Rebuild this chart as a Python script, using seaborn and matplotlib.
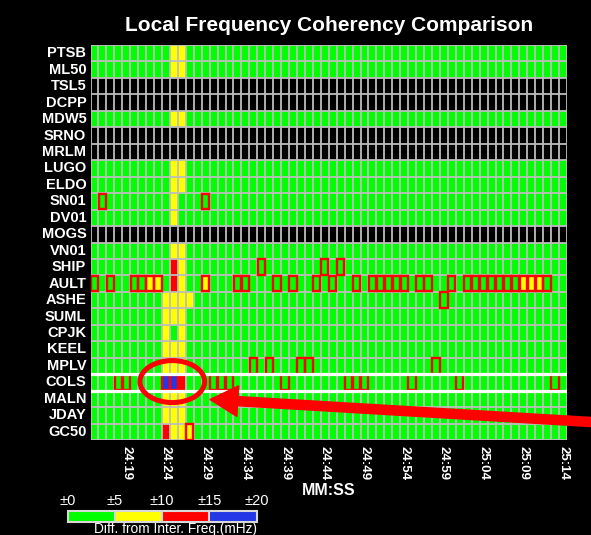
import matplotlib
matplotlib.use("Agg")
import matplotlib.pyplot as plt
import numpy as np
import pandas as pd
import seaborn as sns
from matplotlib.colors import ListedColormap
from matplotlib.patches import Ellipse, Rectangle

# --- data -------------------------------------------------------------------
stations = [
    "PTSB", "ML50", "TSL5", "DCPP", "MDW5", "SRNO", "MRLM", "LUGO",
    "ELDO", "SN01", "DV01", "MOGS", "VN01", "SHIP", "AULT", "ASHE",
    "SUML", "CPJK", "KEEL", "MPLV", "COLS", "MALN", "JDAY", "GC50",
]

# one character per second, 24:15 .. 25:14 (groups of ten)
# g: ±0-5  y: ±5-10  r: ±10-15  b: ±15-20 mHz   .: no data
# upper case = flagged cell (red box)
cell_codes = [
    "gggggggggg yygggggggg gggggggggg gggggggggg gggggggggg gggggggggg",  # PTSB
    "gggggggggg yygggggggg gggggggggg gggggggggg gggggggggg gggggggggg",  # ML50
    ".......... .......... .......... .......... .......... ..........",  # TSL5
    ".......... .......... .......... .......... .......... ..........",  # DCPP
    "gggggggggg yygggggggg gggggggggg gggggggggg gggggggggg gggggggggg",  # MDW5
    ".......... .......... .......... .......... .......... ..........",  # SRNO
    ".......... .......... .......... .......... .......... ..........",  # MRLM
    "gggggggggg yygggggggg gggggggggg gggggggggg gggggggggg gggggggggg",  # LUGO
    "gggggggggg yygggggggg gggggggggg gggggggggg gggggggggg gggggggggg",  # ELDO
    "gGgggggggg ygggGggggg gggggggggg gggggggggg gggggggggg gggggggggg",  # SN01
    "gggggggggg yggggggggg gggggggggg gggggggggg gggggggggg gggggggggg",  # DV01
    ".......... .......... .......... .......... .......... ..........",  # MOGS
    "gggggggggg yygggggggg gggggggggg gggggggggg gggggggggg gggggggggg",  # VN01
    "gggggggggg rygggggggg gGgggggggG gGgggggggg gggggggggg gggggggggg",  # SHIP
    "GgGggGGYYg ryggYgggGG gggGgGggGg GggGgGGGGG gGGggGgGGG GGGGYYYGgg",  # AULT
    "gggggggggy yyyggggggg gggggggggg gggggggggg ggggGggggg gggggggggg",  # ASHE
    "gggggggggy yygggggggg gggggggggg gggggggggg gggggggggg gggggggggg",  # SUML
    "gggggggggy gygggggggg gggggggggg gggggggggg gggggggggg gggggggggg",  # CPJK
    "gggggggggy yygggggggg gggggggggg gggggggggg gggggggggg gggggggggg",  # KEEL
    "gggggggggy yygggggggg GgGgggGGgg gggggggggg gggGgggggg gggggggggg",  # MPLV
    "gggGGggggB BrgggGGGgg ggggGggggg ggGGGggggg GgggggGggg ggggggggGg",  # COLS
    "gggggggggy yygggggggg gggggggggg gggggggggg gggggggggg gggggggggg",  # MALN
    "gggggggggy yygggggggg gggggggggg gggggggggg gggggggggg gggggggggg",  # JDAY
    "gggggggggr yyYggggggg gggggggggg gggggggggg gggggggggg gggggggggg",  # GC50
]

band_mid = {"g": 2.5, "y": 7.5, "r": 12.5, "b": 17.5}
band_edges = [0, 5, 10, 15, 20]
band_labels = ["±0", "±5", "±10", "±15", "±20"]
band_colors = ["#00ff00", "#ffff00", "#ff0000", "#2337e6"]

tick_labels = ["24:19", "24:24", "24:29", "24:34", "24:39", "24:44",
               "24:49", "24:54", "24:59", "25:04", "25:09", "25:14"]

highlight_station = "COLS"
circled_times = ["24:24", "24:26"]

# --- build table --------------------------------------------------------------
rows = [s.replace(" ", "") for s in cell_codes]
start = 24 * 60 + 15
times = [f"{(start + i) // 60}:{(start + i) % 60:02d}" for i in range(len(rows[0]))]
values = np.array([[band_mid.get(ch.lower(), np.nan) for ch in r] for r in rows])
df = pd.DataFrame(values, index=stations, columns=times)

plt.rcParams["font.family"] = ["Liberation Sans", "DejaVu Sans"]

W, H = 591, 535
fig = plt.figure(figsize=(W / 100, H / 100), dpi=100, facecolor="black")
ax = fig.add_axes([90.5 / W, 1 - 440 / H, (567 - 90.5) / W, 395 / H])
cax = fig.add_axes([67.7 / W, 1 - 521.7 / H, 189 / W, 11.2 / H])
ax.set_facecolor("black")

sns.heatmap(
    df,
    ax=ax,
    cmap=ListedColormap(band_colors),
    vmin=band_edges[0],
    vmax=band_edges[-1],
    linewidths=0,
    cbar_ax=cax,
    cbar_kws={"orientation": "horizontal", "drawedges": True},
    xticklabels=False,
    yticklabels=True,
)

n_rows, n_cols = df.shape
grid_kw = dict(color="#bdbdbd", lw=1.3, zorder=3)
ax.vlines(np.arange(n_cols + 1), 0, n_rows, **grid_kw)
ax.hlines(np.arange(n_rows + 1), 0, n_cols, **grid_kw)

# flagged cells
for r, row in enumerate(rows):
    for c, ch in enumerate(row):
        if ch.isupper():
            ax.add_patch(Rectangle((c + 0.04, r + 0.03), 0.92, 0.94, fill=False,
                                   ec="#ff0000", lw=1.7, zorder=4))

# highlighted station row
hr = stations.index(highlight_station)
ax.axhline(hr, color="white", lw=2.3, zorder=5)
ax.axhline(hr + 1, color="white", lw=2.3, zorder=5)

# circle + arrow annotation
c0, c1 = times.index(circled_times[0]), times.index(circled_times[1]) + 1
ax.add_patch(Ellipse(((c0 + c1) / 2 - 0.2, hr + 0.45), 8.15, 2.55, fill=False,
                     ec="#ff0000", lw=3.6, zorder=6, clip_on=False))
ax.annotate(
    "", xy=(15.05, 21.54), xycoords="data",
    xytext=(1.0, 1 - 422 / H), textcoords="figure fraction",
    arrowprops=dict(arrowstyle="simple,head_length=1.0,head_width=1.1,tail_width=0.33",
                    color="#ff0000", mutation_scale=20, shrinkA=0, shrinkB=0),
    annotation_clip=False, zorder=7,
)

# axes text
ax.set_title("Local Frequency Coherency Comparison", color="white",
             fontsize=15, fontweight="bold", pad=10)
ax.set_xticks([times.index(t) + 0.5 for t in tick_labels])
ax.set_xticklabels(tick_labels, rotation=270, ha="center", va="top",
                   fontweight="bold")
ax.set_yticks(np.arange(n_rows) + 0.5)
ax.set_yticklabels(stations, rotation=0, fontweight="bold")
ax.tick_params(axis="x", length=0, pad=4, labelsize=9.5, labelcolor="white")
ax.tick_params(axis="y", length=0, pad=3, labelsize=10.5, labelcolor="white")
ax.set_xlabel("MM:SS", color="white", fontsize=11.5, fontweight="bold", labelpad=2)
ax.set_ylabel("")

# legend bar
cbar = ax.collections[0].colorbar
cbar.set_ticks(band_edges, labels=band_labels)
cbar.outline.set_edgecolor("#d8d8d8")
cbar.outline.set_linewidth(1.5)
cbar.dividers.set_color("#d8d8d8")
cbar.dividers.set_linewidth(1.5)
cax.xaxis.set_ticks_position("top")
cax.tick_params(length=0, pad=1.5, labelsize=10.5, labelcolor="white")
cax.xaxis.set_label_position("bottom")
cax.set_xlabel("Diff. from Inter. Freq.(mHz)", color="white", fontsize=9.9,
               ha="right")
cax.xaxis.set_label_coords(1.0, -0.04)

fig.savefig("out.png", dpi=100, facecolor="black")
